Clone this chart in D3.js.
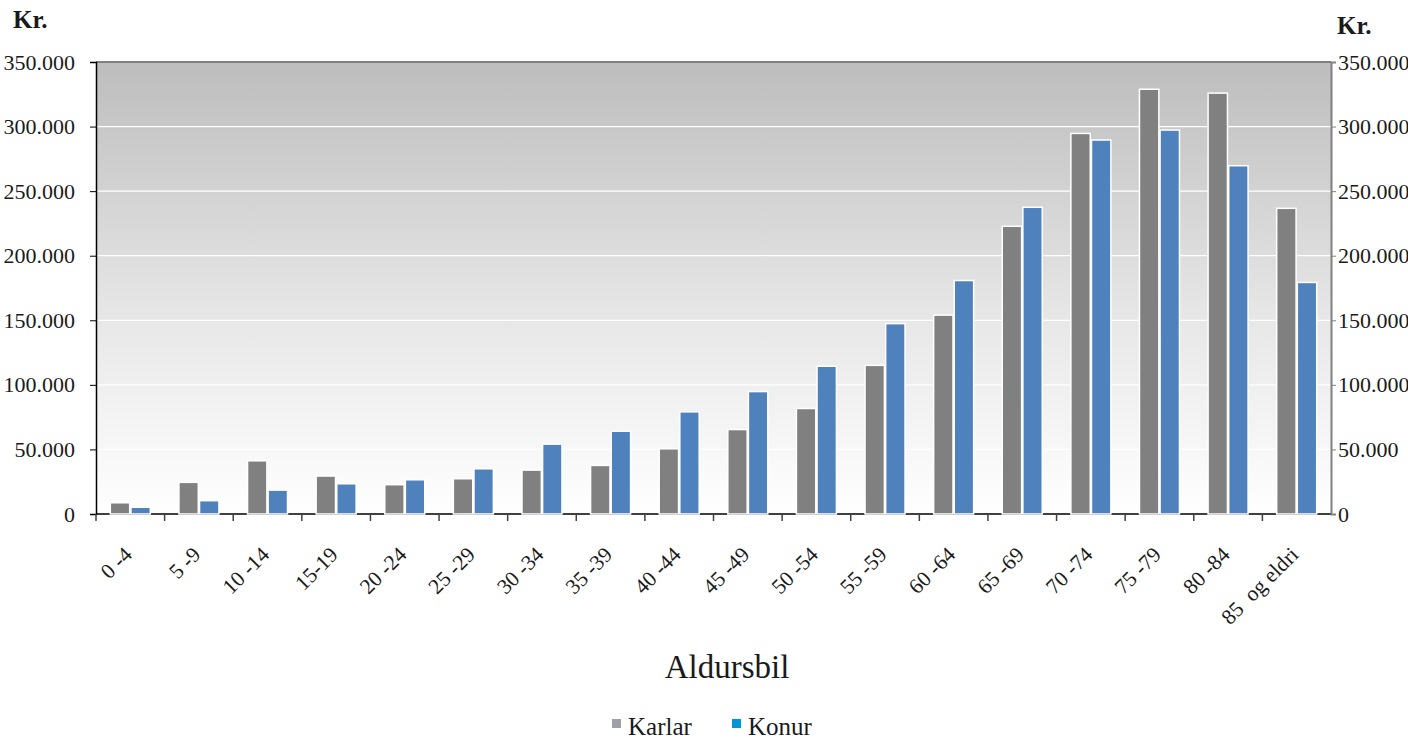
<!DOCTYPE html>
<html>
<head>
<meta charset="utf-8">
<script src="https://cdn.jsdelivr.net/npm/d3@7"></script>
<style>
  body { margin: 0; background: #fff; }
  text { font-family: "Liberation Serif", "Times New Roman", serif; fill: #1a1a1a; }
</style>
</head>
<body>
<div id="chart"></div>
<script>
var ageGroups = ["0 -4", "5 -9", "10 -14", "15-19", "20 -24", "25 -29", "30 -34", "35 -39", "40 -44",
  "45 -49", "50 -54", "55 -59", "60 -64", "65 -69", "70 -74", "75 -79", "80 -84", "85  og eldri"];
var karlar = [8700, 24500, 41200, 29400, 22700, 27300, 34000, 37600, 50500,
  65400, 81700, 115100, 154000, 222800, 294700, 328900, 325900, 236700];
var konur = [5200, 10300, 18500, 23400, 26500, 35000, 54100, 64100, 79100,
  94800, 114400, 147400, 180800, 237500, 289600, 297300, 269700, 179300];
var seriesNames = ["Karlar", "Konur"];
var yTicks = [0, 50000, 100000, 150000, 200000, 250000, 300000, 350000];

var width = 1408, height = 742;
var plotLeft = 96, plotRight = 1331, plotTop = 62, plotBottom = 514;

var svg = d3.select("#chart").append("svg")
  .attr("width", width)
  .attr("height", height);

var x = d3.scaleBand().domain(ageGroups).range([plotLeft, plotRight]);
var x1 = d3.scaleBand().domain(seriesNames).range([x.bandwidth() / 2 - 20, x.bandwidth() / 2 + 20]).paddingInner(0.06);
var y = d3.scaleLinear().domain([0, 350000]).range([plotBottom, plotTop]);

var fmt = function(d) { return d == 0 ? "0" : d3.format(",")(d).replace(/,/g, "."); };

// background gradient
var grad = svg.append("defs").append("linearGradient")
  .attr("id", "bg").attr("x1", 0).attr("y1", 0).attr("x2", 0).attr("y2", 1);
grad.append("stop").attr("offset", "0%").attr("stop-color", "#bdbdbd");
grad.append("stop").attr("offset", "55%").attr("stop-color", "#e6e6e6");
grad.append("stop").attr("offset", "100%").attr("stop-color", "#ffffff");

svg.append("rect")
  .attr("x", plotLeft).attr("y", plotTop)
  .attr("width", plotRight - plotLeft).attr("height", plotBottom - plotTop)
  .attr("fill", "url(#bg)");

// gridlines
svg.append("g").selectAll("line")
  .data(yTicks.slice(1, -1))
  .join("line")
  .attr("x1", plotLeft).attr("x2", plotRight)
  .attr("y1", d => y(d)).attr("y2", d => y(d))
  .attr("stroke", "#ffffff").attr("stroke-width", 1.2);

// top border
svg.append("line")
  .attr("x1", plotLeft).attr("x2", plotRight)
  .attr("y1", plotTop).attr("y2", plotTop)
  .attr("stroke", "#808080").attr("stroke-width", 2);

// baseline
svg.append("line")
  .attr("x1", plotLeft).attr("x2", plotRight)
  .attr("y1", plotBottom).attr("y2", plotBottom)
  .attr("stroke", "#404040").attr("stroke-width", 2);

// bars
var colors = { Karlar: "#808080", Konur: "#4f81bd" };
var groups = svg.append("g").selectAll("g")
  .data(ageGroups)
  .join("g")
  .attr("transform", d => "translate(" + x(d) + ",0)");

groups.selectAll("rect")
  .data((d, i) => [{ s: "Karlar", v: karlar[i] }, { s: "Konur", v: konur[i] }])
  .join("rect")
  .attr("x", d => x1(d.s))
  .attr("width", x1.bandwidth())
  .attr("y", d => y(d.v))
  .attr("height", d => plotBottom - y(d.v))
  .attr("fill", d => colors[d.s])
  .attr("stroke", "#ffffff")
  .attr("stroke-width", 1.5);

// left axis
var yl = svg.append("g")
  .attr("transform", "translate(" + plotLeft + ",0)")
  .call(d3.axisLeft(y).tickValues(yTicks).tickFormat(fmt).tickSize(6).tickPadding(15));
yl.select(".domain").attr("stroke", "#000").attr("stroke-width", 1.5);
yl.selectAll(".tick line").attr("stroke", "#000");
yl.selectAll("text").style("font-family", "Liberation Serif").style("font-size", "22px").attr("fill", "#1a1a1a");

// right axis
var yr = svg.append("g")
  .attr("transform", "translate(" + plotRight + ",0)")
  .call(d3.axisRight(y).tickValues(yTicks).tickFormat(fmt).tickSize(5).tickPadding(2));
yr.select(".domain").attr("stroke", "#808080").attr("stroke-width", 2);
yr.selectAll(".tick line").attr("stroke", "#808080");
yr.selectAll("text").style("font-family", "Liberation Serif").style("font-size", "22px").attr("fill", "#1a1a1a");

// x ticks at band boundaries
svg.append("g").selectAll("line")
  .data(ageGroups)
  .join("line")
  .attr("x1", d => x(d)).attr("x2", d => x(d))
  .attr("y1", plotBottom).attr("y2", plotBottom + 7)
  .attr("stroke", "#404040").attr("stroke-width", 1.5);

// x labels
svg.append("g").selectAll("text")
  .data(ageGroups)
  .join("text")
  .attr("transform", d => "translate(" + (x(d) + x.bandwidth() / 2 + 3) + "," + (plotBottom + 42) + ") rotate(-45)")
  .attr("text-anchor", "end")
  .style("font-size", "21.5px")
  .style("white-space", "pre")
  .text(d => d);

// unit labels
svg.append("text").attr("x", 13).attr("y", 28)
  .style("font-size", "25px").style("font-weight", "bold").text("Kr.");
svg.append("text").attr("x", 1337).attr("y", 34)
  .style("font-size", "25px").style("font-weight", "bold").text("Kr.");

// axis title
svg.append("text").attr("x", 727).attr("y", 678)
  .attr("text-anchor", "middle")
  .style("font-size", "33px").text("Aldursbil");

// legend
var legendColors = { Karlar: "#a0a0a8", Konur: "#0096d6" };
var legendX = { Karlar: 612, Konur: 732 };
var leg = svg.append("g").selectAll("g")
  .data(seriesNames)
  .join("g")
  .attr("transform", d => "translate(" + legendX[d] + ",727)");
leg.append("rect").attr("x", 0).attr("y", -8).attr("width", 9).attr("height", 9)
  .attr("fill", d => legendColors[d]);
leg.append("text").attr("x", 16).attr("y", 8)
  .style("font-size", "25px").text(d => d);
</script>
</body>
</html>
